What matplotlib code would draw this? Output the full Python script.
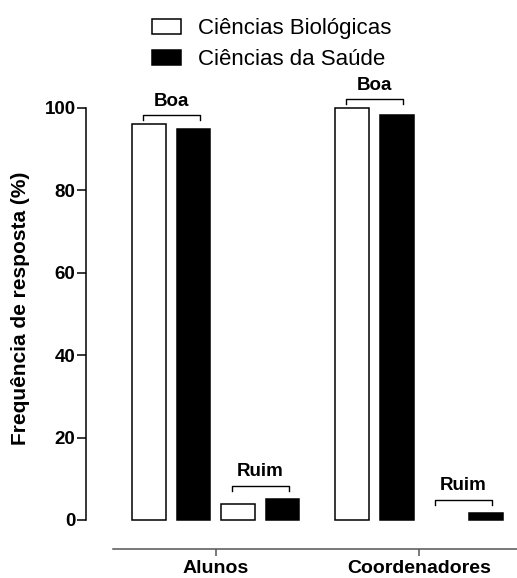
import numpy as np
import matplotlib
matplotlib.use('Agg')
import matplotlib.pyplot as plt

plt.rcParams['font.family'] = ['Liberation Sans', 'DejaVu Sans']

# Data
groups = ['Alunos', 'Coordenadores']
series = ['Ciências Biológicas', 'Ciências da Saúde']
boa = {'Alunos': [96.1, 94.9], 'Coordenadores': [100.0, 98.3]}
ruim = {'Alunos': [3.8, 5.1], 'Coordenadores': [0.0, 1.7]}
yticks = [0, 20, 40, 60, 80, 100]

fig = plt.figure(figsize=(5.17, 5.78), dpi=100)
ax = fig.add_axes([86/517, 1 - 549/578, 431/517, 479/578])

width = 0.76
group_start = [0.0, 4.57]
colors = ['white', 'black']

for g, x0 in zip(groups, group_start):
    for k, (vals, lab) in enumerate([(boa[g], 'Boa'), (ruim[g], 'Ruim')]):
        xs = [x0 + 2*k, x0 + 2*k + 1]
        for i, (xx, v) in enumerate(zip(xs, vals)):
            # a zero bar shows nothing in the original
            lw = 1.1 if v > 0 else 0
            ax.bar(xx, v, width=width, color=colors[i], edgecolor='black',
                   linewidth=lw, label=series[i] if (g == 'Alunos' and k == 0) else None)
        # bracket above pair
        top = max(vals) + (2.1 if lab == 'Boa' else 3.2)
        xl, xr = xs[0] - 0.14, xs[1] + 0.14
        ax.plot([xl, xl, xr, xr], [top - 1.2, top, top, top - 1.2], color='black',
                lw=1.0, clip_on=False)
        ax.text((xl + xr) / 2, top + 1.3, lab, ha='center', va='bottom',
                fontsize=13.5, fontweight='bold')

ax.set_xlim(-1.416, 8.27)
ax.set_ylim(-7.04, 109.2)

ax.spines['top'].set_visible(False)
ax.spines['right'].set_visible(False)
ax.spines['left'].set_bounds(0, 100)
ax.spines['left'].set_linewidth(1.1)
ax.spines['bottom'].set_bounds(-0.81, 8.27)
ax.spines['bottom'].set_color('#555555')
ax.spines['bottom'].set_linewidth(1.1)

ax.set_yticks(yticks)
ax.set_yticklabels([str(t) for t in yticks], fontsize=13.5, fontweight='bold')
ax.tick_params(axis='y', length=6.5, width=1.1, pad=1)

ax.set_xticks([group_start[0] + 1.5, group_start[1] + 1.5])
ax.set_xticklabels(groups, fontsize=14, fontweight='bold')
ax.tick_params(axis='x', length=5, width=1.1, color='#555555', pad=3)

fig.text(21/517, 1 - 308/578, 'Frequência de resposta (%)', rotation=90,
         ha='center', va='center', fontsize=15, fontweight='bold')

fig.legend(loc='upper left', bbox_to_anchor=(152/517, 1 - 18/578), frameon=False,
           fontsize=16, handlelength=1.31, handleheight=0.68, handletextpad=0.77,
           labelspacing=0.46, borderpad=0, borderaxespad=0)

fig.savefig('out.png', dpi=100)
